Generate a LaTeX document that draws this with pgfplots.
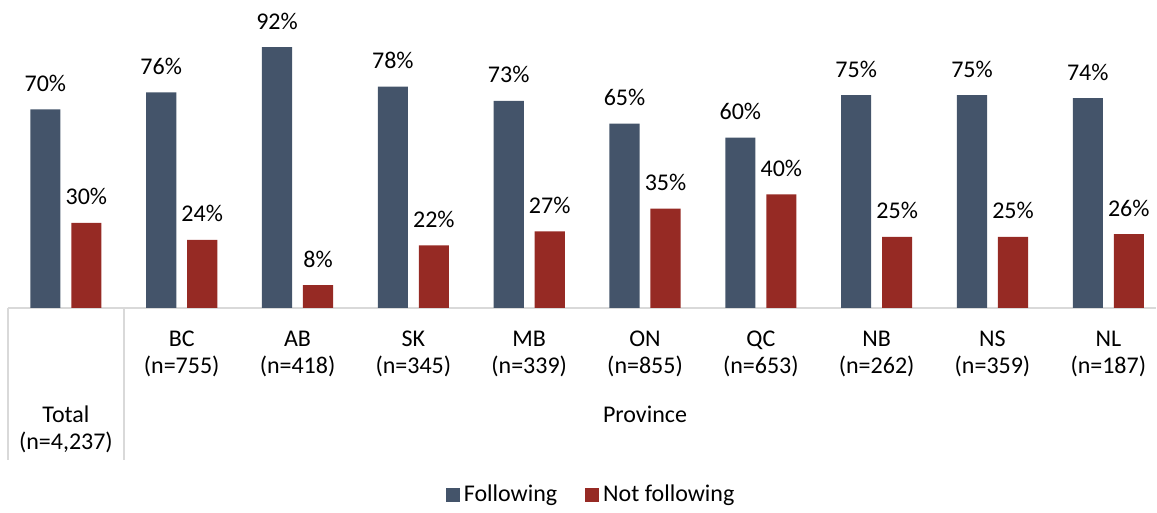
\documentclass[border=0pt]{standalone}
\usepackage{fontspec}
\setmainfont{Carlito}
\usepackage{pgfplots}
\pgfplotsset{compat=1.18}
\definecolor{follow}{HTML}{44546A}
\definecolor{notfollow}{HTML}{962A24}
\definecolor{sepgray}{HTML}{D9D9D9}

\begin{document}
\begin{tikzpicture}[font=\fontsize{12}{13.5}\selectfont]
\begin{axis}[
  scale only axis,
  width=574.5pt, height=154pt,
  xmin=-0.5, xmax=9.414, ymin=0, ymax=108.6,
  clip=false,
  axis y line=none,
  axis x line=bottom,
  x axis line style={-, draw=sepgray, line width=0.75pt},
  major tick length=0pt,
  ytick=\empty,
  xtick={1,2,3,4,5,6,7,8,9},
  xticklabels={BC\\(n=755),AB\\(n=418),SK\\(n=345),MB\\(n=339),ON\\(n=855),QC\\(n=653),NB\\(n=262),NS\\(n=359),NL\\(n=187)},
  xticklabel style={align=center, anchor=north, yshift=-8pt, font=\fontsize{12}{13.5}\selectfont},
  ybar,
  bar width=0.26,
  /pgf/number format/assume math mode=true,
  nodes near coords={\pgfmathprintnumber{\pgfplotspointmeta}\%},
  nodes near coords style={anchor=base, yshift=9pt, text=black, font=\fontsize{12}{13.5}\selectfont},
  legend columns=2,
  legend style={draw=none, at={(0.5087,-0.607)}, anchor=center,
    font=\fontsize{12}{13.5}\selectfont,
    /tikz/every even column/.append style={column sep=12pt}},
  legend image code/.code={\fill[#1] (0pt,-3.5pt) rectangle (7pt,3.5pt);},
]
% Following the guidance
\addplot[fill=follow, draw=none, bar shift=-0.177] coordinates {
  (0,70) (1,76) (2,92) (3,78) (4,73) (5,65) (6,60) (7,75) (8,75) (9,74)};
% Not following the guidance
\addplot[fill=notfollow, draw=none, bar shift=0.177] coordinates {
  (0,30) (1,24) (2,8) (3,22) (4,27) (5,35) (6,40) (7,25) (8,25) (9,26)};
\legend{Following, Not following}

% group separators under the category axis
\draw[sepgray, line width=0.75pt] (axis cs:-0.5,0) -- (axis cs:-0.5,-53.6);
\draw[sepgray, line width=0.75pt] (axis cs:0.5,0) -- (axis cs:0.5,-53.6);

% outer category labels
\node[anchor=base] at (axis cs:0,-40.5) {Total};
\node[anchor=base] at (axis cs:0,-50.05) {(n=4,237)};
\node[anchor=base] at (axis cs:5,-40.5) {Province};

% page extent
\path (axis cs:-0.569,108.6) (axis cs:9.414,-70.5);
\end{axis}
\end{tikzpicture}
\end{document}
